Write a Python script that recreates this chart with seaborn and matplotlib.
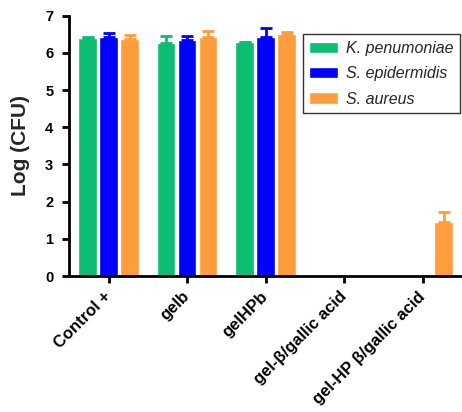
import numpy as np
import pandas as pd
import seaborn as sns
import matplotlib
matplotlib.use("Agg")
import matplotlib.pyplot as plt
from matplotlib.transforms import ScaledTranslation

categories = ["Control +", "gelb", "gelHPb", "gel-β/gallic acid", "gel-HP β/gallic acid"]
species = ["K. penumoniae", "S. epidermidis", "S. aureus"]
k_pneu = [6.40, 6.27, 6.29, 0.0, 0.0]
s_epi = [6.42, 6.35, 6.43, 0.0, 0.0]
s_aur = [6.37, 6.43, 6.50, 0.0, 1.45]
k_pneu_err = [0.03, 0.17, 0.01, 0.0, 0.0]
s_epi_err = [0.12, 0.09, 0.25, 0.0, 0.0]
s_aur_err = [0.12, 0.15, 0.06, 0.0, 0.27]
colors = ["#0BBE72", "#0000FF", "#FF9D3C"]

rows = []
for sp, vals, errs in zip(species, [k_pneu, s_epi, s_aur], [k_pneu_err, s_epi_err, s_aur_err]):
    for c, v, e in zip(categories, vals, errs):
        rows.append({"group": c, "species": sp, "value": v, "err": e})
df = pd.DataFrame(rows)

sns.set_style("ticks")
plt.rcParams["font.family"] = ["Liberation Sans", "DejaVu Sans"]

fig = plt.figure(figsize=(4.62, 4.12), dpi=100)
ax = fig.add_axes([0.150, 0.33, 0.850, 0.632])

sns.barplot(data=df, x="group", y="value", hue="species", order=categories,
            hue_order=species, palette=colors, errorbar=None, width=0.8, gap=0.12,
            saturation=1, ax=ax, zorder=2)

# error bars (upper only) in bar colour
for i, sp in enumerate(species):
    cont = ax.containers[i]
    sub = df[df["species"] == sp].set_index("group").loc[categories]
    xs = [p.get_x() + p.get_width() / 2 for p in cont.patches]
    ys = sub["value"].values
    es = sub["err"].values
    mask = es > 0
    ax.errorbar(np.array(xs)[mask], ys[mask], yerr=[np.zeros(mask.sum()), es[mask]],
                fmt="none", ecolor=colors[i], elinewidth=2, capsize=4, capthick=2, zorder=3)

ax.set_xlim(-0.5, 4.5)
ax.set_ylim(0, 7)
ax.set_yticks(range(0, 8))
ax.set_xlabel("")
ax.set_ylabel("Log (CFU)", fontsize=15, fontweight="bold", labelpad=11)
ax.set_xticks(range(len(categories)))
ax.set_xticklabels(categories, rotation=45, ha="right", va="center", rotation_mode="anchor",
                   fontsize=12, fontweight="bold")
shift = ScaledTranslation(5 / 100, -3 / 100, fig.dpi_scale_trans)
for lab in ax.get_xticklabels():
    lab.set_transform(lab.get_transform() + shift)
for lab in ax.get_yticklabels():
    lab.set_fontweight("bold")
    lab.set_fontsize(10.5)
ax.tick_params(axis="both", width=2, length=5, direction="out", colors="black")
ax.tick_params(axis="y", pad=6.5)
ax.tick_params(axis="x", pad=8)
for s in ["left", "bottom"]:
    ax.spines[s].set_linewidth(2)
    ax.spines[s].set_color("black")
ax.spines["top"].set_visible(False)
ax.spines["right"].set_visible(False)

leg = ax.legend(loc="upper right", bbox_to_anchor=(0.995, 0.928), frameon=True, fancybox=False,
                edgecolor="black", prop={"style": "italic", "size": 11.5},
                handlelength=1.8, handleheight=0.7, handletextpad=0.5, borderpad=0.4,
                labelspacing=0.65, borderaxespad=0)
leg.get_frame().set_linewidth(1)

fig.savefig("out.png", dpi=100)
